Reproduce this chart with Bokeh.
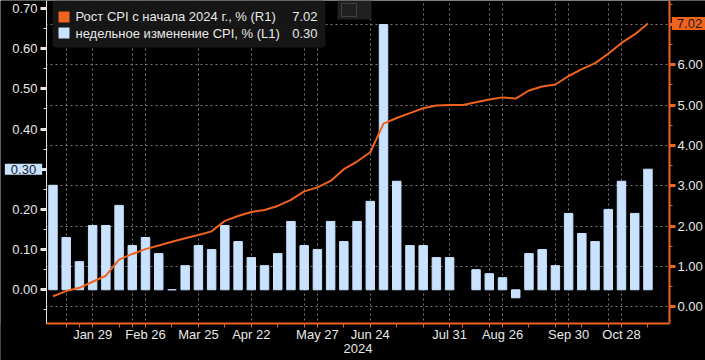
import numpy as np
from bokeh.plotting import figure
from bokeh.models import (Range1d, LinearAxis, FixedTicker, NumeralTickFormatter,
                          Grid, Label, BoxAnnotation)
from bokeh.embed import file_html
from bokeh.resources import INLINE

# ---------------- data ----------------
weekly_cpi = [0.26, 0.13, 0.07, 0.16, 0.16, 0.21, 0.11, 0.13, 0.09, 0.00,
              0.06, 0.11, 0.10, 0.16, 0.12, 0.08, 0.06, 0.09, 0.17, 0.11,
              0.10, 0.17, 0.12, 0.17, 0.22, 0.66, 0.27, 0.11, 0.11, 0.08,
              0.08, float("nan"), 0.05, 0.04, 0.03, -0.02, 0.09, 0.10, 0.06, 0.19,
              0.14, 0.12, 0.20, 0.27, 0.19, 0.30]
ytd_cpi = [0.26, 0.39, 0.47, 0.62, 0.77, 1.17, 1.31, 1.43, 1.52, 1.61,
           1.70, 1.78, 1.87, 2.13, 2.25, 2.35, 2.40, 2.50, 2.65, 2.86,
           2.96, 3.12, 3.41, 3.60, 3.83, 4.54, 4.68, 4.80, 4.92, 4.99,
           5.00, 5.00, 5.07, 5.14, 5.19, 5.16, 5.36, 5.46, 5.51, 5.72,
           5.89, 6.04, 6.27, 6.54, 6.75, 7.02]
label_idx = [3, 7, 11, 15, 20, 24, 30, 34, 39, 43]
date_labels = ["Jan 29", "Feb 26", "Mar 25", "Apr 22", "May 27",
               "Jun 24", "Jul 31", "Aug 26", "Sep 30", "Oct 28"]
extra_grid_idx = [1, 6, 19, 28, 33, 38, 42]
minor_x_idx = [1, 2, 5, 6, 9, 13, 17, 19, 22, 26, 28, 31, 33, 36, 38, 40, 42, 45]
left_ticks = [0.0, 0.1, 0.2, 0.3, 0.4, 0.5, 0.6, 0.7]
left_minor = [-0.05, 0.05, 0.15, 0.25, 0.35, 0.45, 0.55, 0.65]
right_ticks = [0, 1, 2, 3, 4, 5, 6, 7]
right_minor = [0.5, 1.5, 2.5, 3.5, 4.5, 5.5, 6.5, 7.5]
year_label = "2024"
legend_line = "Рост CPI с начала 2024 г., % (R1)"
legend_bar = "недельное изменение CPI, % (L1)"

x = list(range(len(weekly_cpi)))

# axis extents (data units) and the full-canvas ranges around them
X_LO, X_HI = -0.49, 46.63
L_LO, L_HI = -0.0839, 0.7198
R_LO, R_HI = -0.414, 7.591

ORANGE = "#F0631F"
BLUE = "#C8E2FF"
TXT = "#E8E8E8"
GRID = "#7A7A7A"
FONT = "Liberation Sans"
FS = "13px"

p = figure(width=705, height=360, output_backend="svg", toolbar_location=None,
           x_range=Range1d(-3.969, 49.353), y_range=Range1d(-0.1760, L_HI),
           background_fill_color="black", border_fill_color="black",
           outline_line_color=None, min_border_left=0, min_border_right=0,
           min_border_top=0, min_border_bottom=0)
p.extra_y_ranges = {"r": Range1d(-1.331, R_HI)}

# grids
p.ygrid.visible = False
p.xgrid.ticker = FixedTicker(ticks=sorted(label_idx + extra_grid_idx))
p.xgrid.grid_line_color = GRID
p.xgrid.grid_line_dash = "2 3"
p.xgrid.grid_line_width = 1
rgrid = Grid(dimension=1, y_range_name="r", ticker=FixedTicker(ticks=right_ticks),
             grid_line_color=GRID, grid_line_dash="2 3", grid_line_width=1)
p.add_layout(rgrid)

# bars and line
p.vbar(x=x, top=weekly_cpi, width=0.64, fill_color=BLUE, line_color=BLUE, line_width=1)
p.line(x=x, y=ytd_cpi, y_range_name="r", line_color=ORANGE, line_width=2)

# black masks outside the axes (hide grid lines there), drawn under the axes
p.add_layout(BoxAnnotation(right=X_LO, fill_color="black", fill_alpha=1,
                           line_color=None, level="glyph"))
p.add_layout(BoxAnnotation(left=X_HI, fill_color="black", fill_alpha=1,
                           line_color=None, level="glyph"))
p.add_layout(BoxAnnotation(top=L_LO, fill_color="black", fill_alpha=1,
                           line_color=None, level="glyph"))

def style_axis(ax, line_color, tick_color):
    ax.axis_line_color = line_color
    ax.major_tick_line_color = tick_color
    ax.minor_tick_line_color = tick_color
    ax.major_label_text_color = TXT
    ax.major_label_text_font = FONT
    ax.major_label_text_font_size = FS

# left axis
la = p.yaxis[0]
la.fixed_location = X_LO
la.bounds = (L_LO, L_HI)
la.ticker = FixedTicker(ticks=left_ticks, minor_ticks=left_minor)
la.formatter = NumeralTickFormatter(format="0.00")
la.major_label_overrides = {0.3: ""}
style_axis(la, "#E6E6E6", "#E6E6E6")
la.major_tick_out = 6
la.major_tick_in = 0
la.major_tick_line_width = 3
la.minor_tick_out = 3
la.minor_tick_in = 0
la.major_label_standoff = 3

# right axis
ra = LinearAxis(y_range_name="r", fixed_location=X_HI, bounds=(R_LO, R_HI))
ra.ticker = FixedTicker(ticks=right_ticks, minor_ticks=right_minor)
ra.formatter = NumeralTickFormatter(format="0.00")
ra.major_label_overrides = {7: ""}
style_axis(ra, ORANGE, ORANGE)
ra.axis_line_width = 2
ra.major_tick_out = 6
ra.major_tick_in = 0
ra.major_tick_line_width = 3
ra.minor_tick_out = 3
ra.minor_tick_in = 0
ra.major_label_standoff = 2
p.add_layout(ra, "right")

# bottom axis
xa = p.xaxis[0]
xa.fixed_location = L_LO
xa.bounds = (X_LO, X_HI)
xa.ticker = FixedTicker(ticks=label_idx, minor_ticks=minor_x_idx)
xa.major_label_overrides = {i: s for i, s in zip(label_idx, date_labels)}
style_axis(xa, ORANGE, ORANGE)
xa.axis_line_width = 2
xa.major_tick_out = 4
xa.major_tick_in = 0
xa.minor_tick_out = 4
xa.minor_tick_in = 0
xa.major_label_standoff = 0
xa.axis_label = year_label
xa.axis_label_text_color = TXT
xa.axis_label_text_font = FONT
xa.axis_label_text_font_size = FS
xa.axis_label_text_font_style = "normal"
xa.axis_label_standoff = -2

# legend (screen units: x from the left, y up from the bottom of the canvas)
def sbox(l, r, t, b, **kw):
    return BoxAnnotation(left=l, right=r, top=t, bottom=b,
                         left_units="screen", right_units="screen",
                         top_units="screen", bottom_units="screen", **kw)

p.add_layout(sbox(52, 325, 360, 313, fill_color="#171717", fill_alpha=0.95,
                  line_color=None, border_radius=4))
p.add_layout(sbox(58, 69, 349, 338, fill_color=ORANGE, fill_alpha=1, line_color=None))
p.add_layout(sbox(58, 69, 333, 322, fill_color=BLUE, fill_alpha=1, line_color=None))
for ytxt, txt, val in [(344, legend_line, ytd_cpi[-1]), (327, legend_bar, weekly_cpi[-1])]:
    p.add_layout(Label(x=75, y=ytxt, x_units="screen", y_units="screen", text=txt,
                       text_baseline="middle", text_color=TXT, text_font=FONT,
                       text_font_size=FS))
    p.add_layout(Label(x=317, y=ytxt, x_units="screen", y_units="screen",
                       text=f"{val:.2f}", text_align="right", text_baseline="middle",
                       text_color=TXT, text_font=FONT, text_font_size=FS))

# small chart-type widget at the top
p.add_layout(sbox(337, 371, 360, 341, fill_color="#202020", fill_alpha=1, line_color=None))
p.add_layout(sbox(341, 356, 357, 344, fill_color=None, line_color="#8A8A8A", line_width=1))

# last value callouts on the axes
p.add_layout(Label(x=23, y=weekly_cpi[-1], x_units="screen", text=f"{weekly_cpi[-1]:.2f}",
                   text_align="center", text_baseline="middle", text_color="#1A1A2A",
                   text_font=FONT, text_font_size=FS, background_fill_color=BLUE,
                   padding=(6, 1)))
p.add_layout(Label(x=689, y=ytd_cpi[-1], x_units="screen", y_range_name="r",
                   text=f"{ytd_cpi[-1]:.2f}", text_align="center", text_baseline="middle",
                   text_color="#1A1A1A", text_font=FONT, text_font_size=FS,
                   background_fill_color=ORANGE, padding=(5, 2)))

open("out.html", "w").write(file_html(p, INLINE))
